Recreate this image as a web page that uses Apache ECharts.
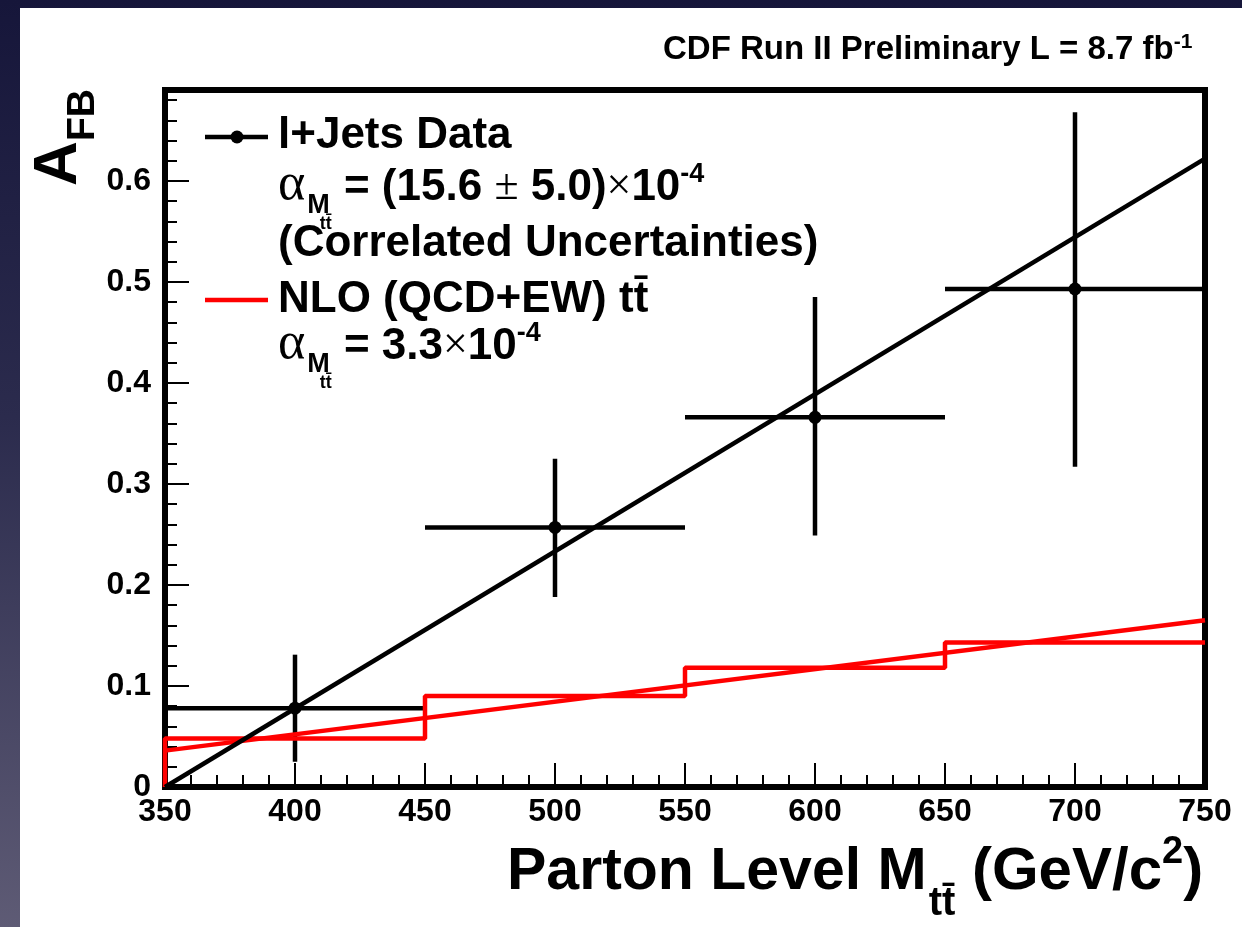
<!DOCTYPE html>
<html>
<head>
<meta charset="utf-8">
<script src="https://cdn.jsdelivr.net/npm/echarts@6/dist/echarts.min.js"></script>
<style>
  html, body { margin: 0; padding: 0; }
  body {
    width: 1242px; height: 927px; overflow: hidden;
    background: linear-gradient(180deg, #16163a 0%, #2b2b4d 45%, #5e5b75 100%);
  }
  #panel { position: absolute; left: 20px; top: 8px; right: 0; bottom: 0; background: #fff; }
  #chart { position: absolute; left: 0; top: 0; width: 1242px; height: 927px; }
</style>
</head>
<body>
<div id="panel"></div>
<div id="chart"></div>
<script>
// l+jets data points (bin centres, bin edges, A_FB and its error bar ends)
var dataX = [400, 500, 600, 700]
var binLow = [350, 450, 550, 650]
var binHigh = [450, 550, 650, 750]
var dataY = [0.078, 0.257, 0.366, 0.493]
var errLow = [0.025, 0.188, 0.249, 0.317]
var errHigh = [0.131, 0.325, 0.485, 0.668]

// linear fits
var fitX = [350, 750]
var dataFit = [0.0, 0.622]
var nloFit = [0.036, 0.165]

// NLO prediction histogram (edges, step heights)
var nloEdges = [350, 350, 450, 550, 650, 750]
var nloStep = [0, 0.048, 0.090, 0.118, 0.143, 0.143]

var xTicks = { min: 350, max: 750, step: 50 }
var yTicks = { min: 0, max: 0.69, step: 0.1, minor: 0.02 }

var SANS = '"Liberation Sans", Arial, Helvetica, sans-serif'
var SERIF = '"Liberation Serif", "DejaVu Serif", serif'
var measure = document.createElement('canvas').getContext('2d')

// lay text pieces out left to right on their own baselines
function textRun(x0, pieces) {
  var x = x0
  var out = []
  pieces.forEach(function (p) {
    var font = (p.weight || 'bold') + ' ' + p.size + 'px ' + (p.family || SANS)
    measure.font = font
    var w = measure.measureText(p.text).width
    x += p.dx || 0
    out.push({
      type: 'text',
      x: x,
      y: p.base - 0.3465 * p.size,
      z: 100,
      style: {
        text: p.text, font: font, fill: '#000',
        textAlign: 'left', textVerticalAlign: 'middle', align: 'left', verticalAlign: 'middle'
      }
    })
    x += w
  })
  return out
}

function alphaRun(x0, base, rest) {
  return textRun(x0, [
    { text: 'α', size: 52, weight: 'normal', family: SERIF, base: base },
    { text: 'M', size: 27, base: base + 12, dx: 2 },
    { text: 'tt\u0304', size: 18, base: base + 27, dx: -10 }
  ].concat(rest))
}

var graphics = []
// legend markers
graphics.push({ type: 'line', z: 100, shape: { x1: 205, y1: 137, x2: 268, y2: 137 }, style: { stroke: '#000', lineWidth: 4.5 } })
graphics.push({ type: 'circle', z: 100, shape: { cx: 237, cy: 137, r: 6.5 }, style: { fill: '#000' } })
graphics.push({ type: 'line', z: 100, shape: { x1: 205, y1: 300, x2: 268, y2: 300 }, style: { stroke: '#ff0000', lineWidth: 4.5 } })

graphics = graphics
  .concat(textRun(278, [{ text: 'l+Jets Data', size: 44, base: 151 }]))
  .concat(alphaRun(278, 203, [
    { text: ' = (15.6 ', size: 44, base: 203 },
    { text: '±', size: 44, weight: 'normal', family: SERIF, base: 203 },
    { text: ' 5.0)', size: 44, base: 203 },
    { text: '×', size: 44, weight: 'normal', family: SERIF, base: 203 },
    { text: '10', size: 44, base: 203 },
    { text: '-4', size: 27, base: 184 }
  ]))
  .concat(textRun(278, [{ text: '(Correlated Uncertainties)', size: 44, base: 259 }]))
  .concat(textRun(278, [{ text: 'NLO (QCD+EW) tt\u0304', size: 44, base: 315 }]))
  .concat(alphaRun(278, 362, [
    { text: ' = 3.3', size: 44, base: 362 },
    { text: '×', size: 44, weight: 'normal', family: SERIF, base: 362 },
    { text: '10', size: 44, base: 362 },
    { text: '-4', size: 27, base: 343 }
  ]))
  .concat(textRun(663, [
    { text: 'CDF Run II Preliminary L = 8.7 fb', size: 33, base: 61 },
    { text: '-1', size: 21, base: 49 }
  ]))
  .concat(textRun(507, [
    { text: 'Parton Level M', size: 59, base: 893 },
    { text: 'tt\u0304', size: 40, base: 918, dx: 2 },
    { text: ' (GeV/c', size: 60, base: 893 },
    { text: '2', size: 38, base: 866 },
    { text: ')', size: 60, base: 893 }
  ]))

// rotated y title A_FB
graphics.push({
  type: 'text', x: 80 - 0.3465 * 62, y: 186, rotation: Math.PI / 2, z: 100,
  style: { text: 'A', font: 'bold 62px ' + SANS, fill: '#000', textAlign: 'left', textVerticalAlign: 'middle', align: 'left', verticalAlign: 'middle' }
})
graphics.push({
  type: 'text', x: 97 - 0.3465 * 39, y: 141, rotation: Math.PI / 2, z: 100,
  style: { text: 'FB', font: 'bold 39px ' + SANS, fill: '#000', textAlign: 'left', textVerticalAlign: 'middle', align: 'left', verticalAlign: 'middle' }
})

var chart = echarts.init(document.getElementById('chart'), null, { renderer: 'canvas' })

var pointData = dataX.map(function (x, i) {
  return [x, dataY[i], binLow[i], binHigh[i], errLow[i], errHigh[i]]
})

var option = {
  animation: false,
  backgroundColor: 'transparent',
  grid: {
    left: 165, right: 37, top: 90, bottom: 140,
    show: true, borderColor: '#000', borderWidth: 6, backgroundColor: 'transparent'
  },
  xAxis: {
    type: 'value',
    min: xTicks.min, max: xTicks.max, interval: xTicks.step,
    axisLine: { show: false },
    splitLine: { show: false },
    axisTick: { inside: true, length: 24, lineStyle: { color: '#000', width: 2 } },
    minorTick: { show: true, splitNumber: 5, length: 12, lineStyle: { color: '#000', width: 2 } },
    axisLabel: { color: '#000', fontFamily: SANS, fontWeight: 'bold', fontSize: 32, margin: 9 }
  },
  yAxis: [
    {
      type: 'value', position: 'left',
      min: yTicks.min, max: yTicks.max, interval: yTicks.step,
      axisLine: { show: false },
      splitLine: { show: false },
      axisTick: { inside: true, length: 24, lineStyle: { color: '#000', width: 2 } },
      axisLabel: {
        color: '#000', fontFamily: SANS, fontWeight: 'bold', fontSize: 32, margin: 14,
        showMaxLabel: false,
        formatter: function (v) { return v === 0 ? '0' : v.toFixed(1) }
      }
    },
    {
      type: 'value', position: 'left',
      min: yTicks.min, max: yTicks.max, interval: yTicks.minor,
      axisLine: { show: false },
      splitLine: { show: false },
      axisTick: { inside: true, length: 12, lineStyle: { color: '#000', width: 2 } },
      axisLabel: { show: false }
    }
  ],
  series: [
    {
      name: 'NLO step', type: 'line', step: 'end', yAxisIndex: 0,
      showSymbol: false, symbol: 'none',
      lineStyle: { color: '#ff0000', width: 4.5 },
      data: nloEdges.map(function (x, i) { return [x, nloStep[i]] })
    },
    {
      name: 'NLO fit', type: 'line', yAxisIndex: 0,
      showSymbol: false, symbol: 'none',
      lineStyle: { color: '#ff0000', width: 4.5 },
      data: fitX.map(function (x, i) { return [x, nloFit[i]] })
    },
    {
      name: 'Data fit', type: 'line', yAxisIndex: 0,
      showSymbol: false, symbol: 'none',
      lineStyle: { color: '#000', width: 4.5 },
      data: fitX.map(function (x, i) { return [x, dataFit[i]] })
    },
    {
      name: 'l+Jets Data', type: 'custom', yAxisIndex: 0,
      encode: { x: 0, y: 1 },
      data: pointData,
      renderItem: function (params, api) {
        var c = api.coord([api.value(0), api.value(1)])
        var xl = api.coord([api.value(2), api.value(1)])
        var xh = api.coord([api.value(3), api.value(1)])
        var yl = api.coord([api.value(0), api.value(4)])
        var yh = api.coord([api.value(0), api.value(5)])
        var st = { stroke: '#000', lineWidth: 4.5 }
        return {
          type: 'group',
          children: [
            { type: 'line', shape: { x1: xl[0], y1: xl[1], x2: xh[0], y2: xh[1] }, style: st },
            { type: 'line', shape: { x1: yl[0], y1: yl[1], x2: yh[0], y2: yh[1] }, style: st },
            { type: 'circle', shape: { cx: c[0], cy: c[1], r: 6.5 }, style: { fill: '#000' } }
          ]
        }
      }
    }
  ],
  graphic: graphics
}

chart.setOption(option)
</script>
</body>
</html>
